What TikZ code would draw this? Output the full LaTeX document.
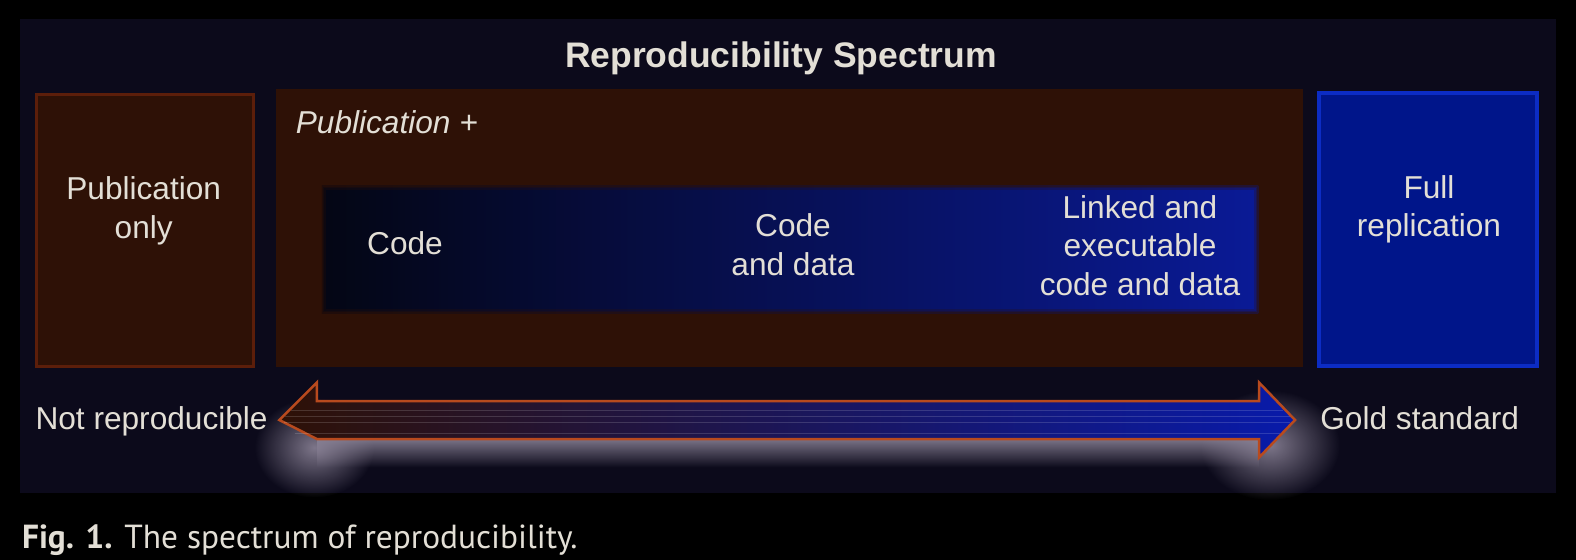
\documentclass[tikz,border=0pt]{standalone}
\usepackage{fontspec}
\setmainfont{Liberation Sans}
\newfontfamily\captionfont{PT Sans}
\usepackage{tikz}
\definecolor{panelbg}{RGB}{12, 10, 27}
\definecolor{brownbg}{RGB}{46, 17, 6}
\definecolor{brownedge}{RGB}{92, 30, 10}
\definecolor{bluebg}{RGB}{0, 21, 138}
\definecolor{blueedge}{RGB}{12, 44, 196}
\definecolor{codedark}{RGB}{4, 6, 20}
\definecolor{codeblue}{RGB}{10, 26, 150}
\definecolor{arrowedge}{RGB}{184, 74, 30}
\definecolor{arrowmid}{RGB}{40, 20, 70}
\definecolor{arrowblue}{RGB}{8, 26, 170}
\definecolor{labeltext}{RGB}{227, 223, 214}
\definecolor{glow}{RGB}{138, 130, 150}
\usetikzlibrary{calc,fadings}
\tikzfading[name=glowfade, inner color=transparent!10, outer color=transparent!100]
\tikzfading[name=bandfade, top color=transparent!0, middle color=transparent!45, bottom color=transparent!100]

\begin{document}
\begin{tikzpicture}[every node/.style={font=\fontsize{18}{22}\selectfont, text=labeltext, inner sep=0pt},
  panelbox/.style={fill=panelbg, minimum width=30.72cm, minimum height=9.48cm},
  pubbox/.style={fill=brownbg, draw=brownedge, line width=0.06cm},
  replbox/.style={fill=bluebg, draw=blueedge, line width=0.08cm},
  stagebox/.style={left color=codedark, right color=codeblue, minimum width=18.73cm, minimum height=2.546cm},
  stagetext/.style={align=center, anchor=north},
  spectrum/.style={left color=brownbg, middle color=arrowmid, right color=arrowblue, draw=arrowedge, line width=0.05cm}]
  \fill[black] (0,0) rectangle (31.52,-11.2);
  \useasboundingbox (0,0) rectangle (31.52,-11.2);
  \node[panelbox] (panel) at (15.76,-5.12) {};
  \node[anchor=north, font=\fontsize{20.2}{24}\selectfont\bfseries] (title) at (15.62,-0.834) {Reproducibility Spectrum};

  % the three columns
  \node[pubbox, minimum width=4.34cm, minimum height=5.446cm] (pubonly) at (2.90,-4.607) {};
  \node[fill=brownbg, minimum width=20.54cm, minimum height=5.548cm] (pubplus) at (15.78,-4.56) {};
  \node[replbox, minimum width=4.36cm, minimum height=5.466cm] (repl) at (28.554,-4.587) {};
  \node[stagetext] (pubonlytxt) at (2.874,-3.534) {Publication\\only};
  \node[anchor=north west, font=\fontsize{18}{22}\selectfont\itshape] (pubplustxt) at (5.91,-2.20) {Publication +};
  \node[stagetext] (repltxt) at (28.58,-3.50) {Full\\replication};

  % code and data stages, soft edges
  \node[stagebox] (stages) at (15.80,-4.99) {};
  \foreach \w/\o in {0.18/0.25, 0.11/0.3, 0.05/0.4}
    \draw[brownbg, opacity=\o, line width=\w cm] (stages.south west) rectangle (stages.north east);
  \node[stagetext] (code) at (8.10,-4.634) {Code};
  \node[stagetext] (codedata) at (15.86,-4.267) {Code\\and data};
  \node[stagetext] (linked) at (22.80,-3.90) {Linked and\\executable\\code and data};

  % spectrum arrow
  \coordinate (ltip) at (5.586,-8.40);
  \coordinate (rtip) at (25.90,-8.40);
  % glow under the arrow
  \fill[glow, path fading=bandfade] ($(ltip)+(0.75,-0.3)$) rectangle ($(rtip)+(-0.72,-0.95)$);
  \fill[glow, path fading=glowfade] ($(ltip)+(0.7,-0.55)$) ellipse (1.2 and 1.0);
  \fill[glow, path fading=glowfade] ($(rtip)+(-0.5,-0.5)$) ellipse (1.4 and 1.1);
  \path[spectrum]
    (ltip) -- ++(0.75,0.75) -- ++(0,-0.37) -- ($(rtip)+(-0.72,0.38)$) -- ++(0,0.37) -- (rtip)
    -- ++(-0.72,-0.75) -- ++(0,0.37) -- ($(ltip)+(0.75,-0.38)$) -- cycle;
  \foreach \d in {0.20,0.066,-0.054,-0.266}
    \draw[white, opacity=0.15, line width=0.4pt] ($(ltip)+({abs(\d)+0.04},\d)$) -- ($(rtip)+({-abs(\d)-0.04},\d)$);
  \node[anchor=north east] (notrep) at (5.36,-8.13) {Not reproducible};
  \node[anchor=north west] (gold) at (26.40,-8.13) {Gold standard};

  \node[anchor=north west, font=\captionfont\fontsize{19}{23}\selectfont] (caption) at (0.434,-10.48) {\textbf{Fig. 1.} The spectrum of reproducibility.};
\end{tikzpicture}
\end{document}
